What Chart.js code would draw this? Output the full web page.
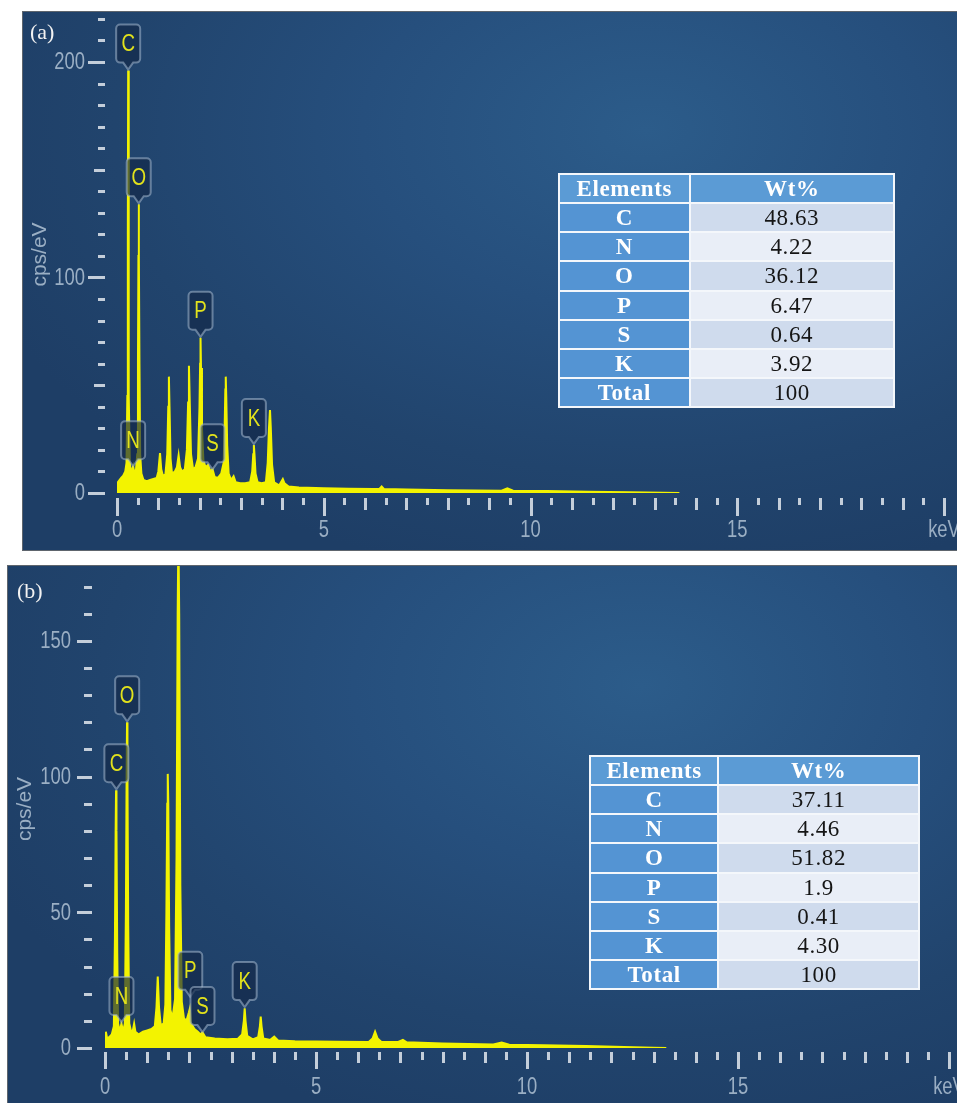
<!DOCTYPE html>
<html>
<head>
<meta charset="utf-8">
<script src="https://cdn.jsdelivr.net/npm/chart.js@4.4.1/dist/chart.umd.min.js"></script>
<style>
  html, body { margin: 0; padding: 0; background: #ffffff; }
  body { width: 957px; height: 1103px; overflow: hidden; position: relative; }
  .panel {
    position: absolute;
    border: 1px solid #5e656d;
    overflow: hidden;
    background: radial-gradient(ellipse 75% 85% at 66% 22%, #2c5c8a 0%, #264f7d 40%, #21446d 75%, #1e3e66 100%);
  }
  #panelA { left: 22px; top: 11px; width: 944px; height: 538px; }
  #panelB { left: 7px; top: 565px; width: 960px; height: 545px; }
  .wrap { position: absolute; left: 0; top: 0; }
  #wrapA { width: 934px; height: 538px; }
  #wrapB { width: 949px; height: 537px; }
  .tag {
    position: absolute;
    font-family: "Liberation Serif", "Times New Roman", serif;
    font-size: 22px;
    line-height: 1;
    color: #f2f2f2;
  }
  table.wt {
    position: absolute;
    border-collapse: collapse;
    font-family: "Liberation Serif", "Times New Roman", serif;
    font-size: 23px;
    letter-spacing: 0.6px;
    border: 2px solid #dde5ee;
    table-layout: fixed;
  }
  table.wt td {
    border: 2px solid #f4f7fb;
    text-align: center;
    vertical-align: middle;
    padding: 0;
    line-height: 1;
  }
  table.wt tr.head td { background: #5b9bd5; color: #ffffff; font-weight: bold; }
  table.wt td.el { background: #5494d3; color: #ffffff; font-weight: bold; }
  table.wt td.v { color: #151515; }
  table.wt tr.odd td.v { background: #cfdbed; }
  table.wt tr.even td.v { background: #e9eef7; }
</style>
</head>
<body>

<div class="panel" id="panelA"><div class="wrap" id="wrapA"><canvas id="chartA"></canvas></div></div>
<div class="panel" id="panelB"><div class="wrap" id="wrapB"><canvas id="chartB"></canvas></div></div>

<div class="tag" style="left:30px; top:21px;">(a)</div>
<div class="tag" style="left:17px; top:580px;">(b)</div>

<table class="wt" id="tableA" style="left:558px; top:173px; width:337px; height:235px;"></table>
<table class="wt" id="tableB" style="left:589px; top:755px; width:331px; height:235px;"></table>

<script>
// ---- Spectrum (a): energy in keV, intensity in cps/eV ----
const energyA = [
  0.00, 0.02, 0.06, 0.10, 0.15, 0.20, 0.23, 0.25, 0.262, 0.27, 0.278, 0.29, 0.31,
  0.34, 0.37, 0.39, 0.42, 0.46, 0.49, 0.507, 0.518, 0.525, 0.532, 0.543, 0.56, 0.59,
  0.64, 0.72, 0.80, 0.88, 0.96, 1.00, 1.04, 1.07, 1.11, 1.17, 1.215, 1.24, 1.255,
  1.27, 1.295, 1.33, 1.40, 1.45, 1.49, 1.525, 1.57, 1.64, 1.69, 1.72, 1.74, 1.76,
  1.79, 1.84, 1.90, 1.96, 1.995, 2.01, 2.02, 2.032, 2.055, 2.09, 2.14, 2.20, 2.26,
  2.31, 2.36, 2.44, 2.52, 2.58, 2.605, 2.62, 2.63, 2.642, 2.665, 2.70, 2.76, 2.82,
  2.87, 2.98, 3.10, 3.22, 3.27, 3.295, 3.31, 3.325, 3.35, 3.40, 3.50, 3.60, 3.645,
  3.675, 3.70, 3.72, 3.75, 3.80, 3.92, 3.98, 4.01, 4.05, 4.15, 4.40, 5.00, 5.60,
  6.20, 6.34, 6.40, 6.46, 7.00, 8.00, 9.30, 9.44, 9.58, 10.40, 11.40, 12.40, 13.20,
  13.60
];
const cpsA = [
  0, 5, 6, 7, 8, 10, 14, 45, 120, 196, 120, 45, 14,
  9, 11, 12.5, 9, 11, 18, 60, 110, 134, 110, 60, 18, 9,
  6, 5.5, 6, 6.5, 7, 10, 18.5, 11, 8, 8.5, 18, 40, 54,
  40, 16, 9, 10, 12, 17.5, 12, 10, 11, 20, 42, 59, 42,
  18, 11, 12, 16, 40, 60, 72, 58, 30, 15, 12, 13, 10,
  11, 7.5, 7, 9, 14, 32, 48, 54, 45, 22, 9, 6, 7.8,
  5, 4.5, 4.5, 5, 10, 18, 22.3, 18, 9, 5, 4.5, 5, 14,
  30, 38.5, 30, 13, 5, 3.5, 5.5, 6.5, 4.5, 3, 2.5, 2.2, 2,
  1.8, 1.8, 3, 1.8, 1.6, 1.3, 1.1, 2.2, 1.1, 0.9, 0.6, 0.35, 0.12,
  0
];

// ---- Spectrum (b) ----
const energyB = [
  0.00, 0.02, 0.05, 0.10, 0.16, 0.21, 0.235, 0.252, 0.262, 0.272, 0.29, 0.31,
  0.35, 0.39, 0.43, 0.47, 0.495, 0.512, 0.522, 0.532, 0.55, 0.575, 0.62, 0.66,
  0.69, 0.72, 0.80, 0.90, 1.00, 1.10, 1.18, 1.22, 1.25, 1.28, 1.32, 1.39, 1.43,
  1.455, 1.475, 1.487, 1.50, 1.52, 1.55, 1.60, 1.66, 1.695, 1.722, 1.74, 1.758,
  1.785, 1.82, 1.87, 1.93, 1.985, 2.01, 2.04, 2.12, 2.20, 2.26, 2.31, 2.38, 2.60,
  2.90, 3.15, 3.25, 3.29, 3.31, 3.33, 3.37, 3.50, 3.63, 3.67, 3.69, 3.71, 3.75,
  3.92, 4.01, 4.10, 4.50, 5.50, 6.25, 6.34, 6.40, 6.46, 6.55, 6.95, 7.06, 7.15,
  8.00, 9.20, 9.40, 9.58, 10.40, 11.40, 12.30, 13.00, 13.30
];
const cpsB = [
  0, 6, 3.5, 4, 5, 8, 40, 80, 95, 80, 35, 9,
  6, 9, 6, 9, 50, 100, 120, 100, 45, 9, 6, 6.5,
  9, 6, 5, 6, 6.5, 7, 8, 15, 26.3, 15, 8.5, 9, 16,
  50, 90, 101, 90, 45, 14, 11, 18, 70, 160, 190, 160,
  60, 17, 11, 10, 13, 14.5, 9, 7, 6, 5, 5.8, 4, 3.5,
  3.2, 3.4, 5, 10, 14.6, 10, 4.5, 3.2, 4, 8, 11.6, 8, 3.5,
  3, 4.2, 2.8, 2.5, 2.3, 2.2, 3.5, 6, 3.5, 2.2, 2.2, 3, 2.1,
  1.7, 1.3, 2.0, 1.2, 1, 0.7, 0.35, 0.12, 0
];

// ---- Element markers ----
const markerNames = ['C', 'N', 'O', 'P', 'S', 'K'];
const markerEnergy = [0.27, 0.39, 0.525, 2.02, 2.31, 3.31];
const markerLevelA = [196, 12, 134, 72, 10.5, 22.3];
const markerLevelB = [95, 9.2, 120, 18.5, 5.5, 14.7];

// ---- Axis ticks ----
const xTickValues = [0, 5, 10, 15, 20];
const xTickLabels = ['0', '5', '10', '15', 'keV'];
const yTickLabelsA = [0, 100, 200];
const yTickLabelsB = [0, 50, 100, 150];

// ---- Composition tables ----
const tableElements = ['C', 'N', 'O', 'P', 'S', 'K', 'Total'];
const wtA = ['48.63', '4.22', '36.12', '6.47', '0.64', '3.92', '100'];
const wtB = ['37.11', '4.46', '51.82', '1.9', '0.41', '4.30', '100'];

function fillTable(id, values) {
  const t = document.getElementById(id);
  const colgroup = '<colgroup><col style="width:39%"><col style="width:61%"></colgroup>';
  let html = colgroup + '<tr class="head"><td>Elements</td><td>Wt%</td></tr>';
  tableElements.forEach((el, i) => {
    html += '<tr class="' + (i % 2 === 0 ? 'odd' : 'even') + '"><td class="el">' + el +
            '</td><td class="v">' + values[i] + '</td></tr>';
  });
  t.innerHTML = html;
}
fillTable('tableA', wtA);
fillTable('tableB', wtB);

const TICK_COLOR = 'rgba(210,218,228,0.92)';
const LABEL_COLOR = 'rgba(172,190,208,0.88)';
const SPEC_COLOR = '#f3f300';

function narrowText(ctx, text, x, y, align, sx) {
  ctx.save();
  ctx.translate(x, y);
  ctx.scale(sx, 1);
  ctx.textAlign = align;
  ctx.fillText(text, 0, 0);
  ctx.restore();
}

// Axis decoration: EDS-style tick marks, tick labels and the cps/eV title
function axisDecor(cfg) {
  return {
    id: 'axisDecor',
    afterDatasetsDraw(chart) {
      const { ctx, chartArea: a } = chart;
      const xs = chart.scales.x, ys = chart.scales.y;
      ctx.save();
      ctx.strokeStyle = TICK_COLOR;
      ctx.lineWidth = 3;
      // vertical axis ticks
      const nY = Math.round(cfg.yTop / 10);
      for (let i = 0; i <= nY; i++) {
        const v = i * 10;
        const py = Math.round(ys.getPixelForValue(v)) + 0.5;
        let len = cfg.lenMinor;
        if (v % cfg.yMajor === 0) len = cfg.lenMajor;
        else if (cfg.yMid && v % cfg.yMid === 0) len = cfg.lenMid;
        ctx.beginPath();
        ctx.moveTo(a.left - cfg.yGap - len, py);
        ctx.lineTo(a.left - cfg.yGap, py);
        ctx.stroke();
      }
      // horizontal axis ticks every 0.5 keV
      for (let i = 0; i <= 40; i++) {
        const v = i * 0.5;
        const px = Math.round(xs.getPixelForValue(v)) + 0.5;
        let len = cfg.xShort;
        if (i % 10 === 0) len = cfg.xLong;
        else if (i % 2 === 0) len = cfg.xMid;
        ctx.beginPath();
        ctx.moveTo(px, a.bottom + cfg.xGap);
        ctx.lineTo(px, a.bottom + cfg.xGap + len);
        ctx.stroke();
      }
      // tick labels
      ctx.fillStyle = LABEL_COLOR;
      ctx.font = '23px "Liberation Sans", Arial, sans-serif';
      ctx.textBaseline = 'middle';
      cfg.yLabels.forEach(v => {
        narrowText(ctx, String(v), a.left - cfg.yLabelOff, ys.getPixelForValue(v) + 1, 'right', 0.8);
      });
      xTickValues.forEach((v, i) => {
        narrowText(ctx, xTickLabels[i], xs.getPixelForValue(v), a.bottom + cfg.xLabelOff, 'center', 0.8);
      });
      // axis title
      ctx.save();
      ctx.translate(cfg.titleX, (a.top + a.bottom) / 2 + 2);
      ctx.rotate(-Math.PI / 2);
      ctx.textAlign = 'center';
      ctx.font = '21px "Liberation Sans", Arial, sans-serif';
      ctx.fillText('cps/eV', 0, 0);
      ctx.restore();
      ctx.restore();
    }
  };
}

// Element marker tags pointing down at the line energies
function markerTags(levels) {
  return {
    id: 'markerTags',
    afterDatasetsDraw(chart) {
      const { ctx } = chart;
      const xs = chart.scales.x, ys = chart.scales.y;
      ctx.save();
      markerNames.forEach((name, i) => {
        const px = xs.getPixelForValue(markerEnergy[i]);
        const tip = ys.getPixelForValue(levels[i]) - 1;
        const w = 24, r = 4, notch = 5;
        const b = tip - 7, t = tip - 45;
        const l = px - w / 2, rr = px + w / 2;
        ctx.beginPath();
        ctx.moveTo(l + r, t);
        ctx.arcTo(rr, t, rr, b, r);
        ctx.arcTo(rr, b, px + notch, b, r);
        ctx.lineTo(px + notch, b);
        ctx.lineTo(px, tip);
        ctx.lineTo(px - notch, b);
        ctx.arcTo(l, b, l, t, r);
        ctx.arcTo(l, t, rr, t, r);
        ctx.closePath();
        ctx.fillStyle = 'rgba(18,40,72,0.66)';
        ctx.fill();
        ctx.strokeStyle = 'rgba(165,185,208,0.55)';
        ctx.lineWidth = 2;
        ctx.stroke();
        ctx.fillStyle = '#e2e21c';
        ctx.font = '24px "Liberation Sans", Arial, sans-serif';
        ctx.textBaseline = 'middle';
        narrowText(ctx, name, px, (t + b) / 2 + 1, 'center', 0.78);
      });
      ctx.restore();
    }
  };
}

function makeSpectrum(canvasId, energy, cps, yMax, pad, axisCfg, levels) {
  const points = energy.map((e, i) => ({ x: e, y: cps[i] }));
  return new Chart(document.getElementById(canvasId), {
    type: 'line',
    data: {
      datasets: [{
        data: points,
        borderColor: SPEC_COLOR,
        backgroundColor: SPEC_COLOR,
        borderWidth: 2,
        pointRadius: 0,
        fill: 'origin',
        tension: 0
      }]
    },
    options: {
      responsive: true,
      maintainAspectRatio: false,
      animation: false,
      layout: { padding: pad },
      scales: {
        x: { type: 'linear', min: 0, max: 20, display: false },
        y: { type: 'linear', min: 0, max: yMax, display: false }
      },
      plugins: { legend: { display: false }, tooltip: { enabled: false } }
    },
    plugins: [axisDecor(axisCfg), markerTags(levels)]
  });
}

makeSpectrum('chartA', energyA, cpsA, 223.2,
  { left: 94, right: 13, top: 0, bottom: 57 },
  { yTop: 220, yMajor: 100, yMid: 50, lenMajor: 17, lenMid: 11, lenMinor: 7, yGap: 12,
    xGap: 5, xShort: 7, xMid: 12, xLong: 18, yLabels: yTickLabelsA, yLabelOff: 32,
    xLabelOff: 38, titleX: 17 },
  markerLevelA);

makeSpectrum('chartB', energyB, cpsB, 177.6,
  { left: 97, right: 8, top: 0, bottom: 55 },
  { yTop: 170, yMajor: 50, yMid: 0, lenMajor: 15, lenMid: 15, lenMinor: 8, yGap: 13,
    xGap: 4, xShort: 8, xMid: 11, xLong: 17, yLabels: yTickLabelsB, yLabelOff: 34,
    xLabelOff: 40, titleX: 17.5 },
  markerLevelB);
</script>
</body>
</html>
